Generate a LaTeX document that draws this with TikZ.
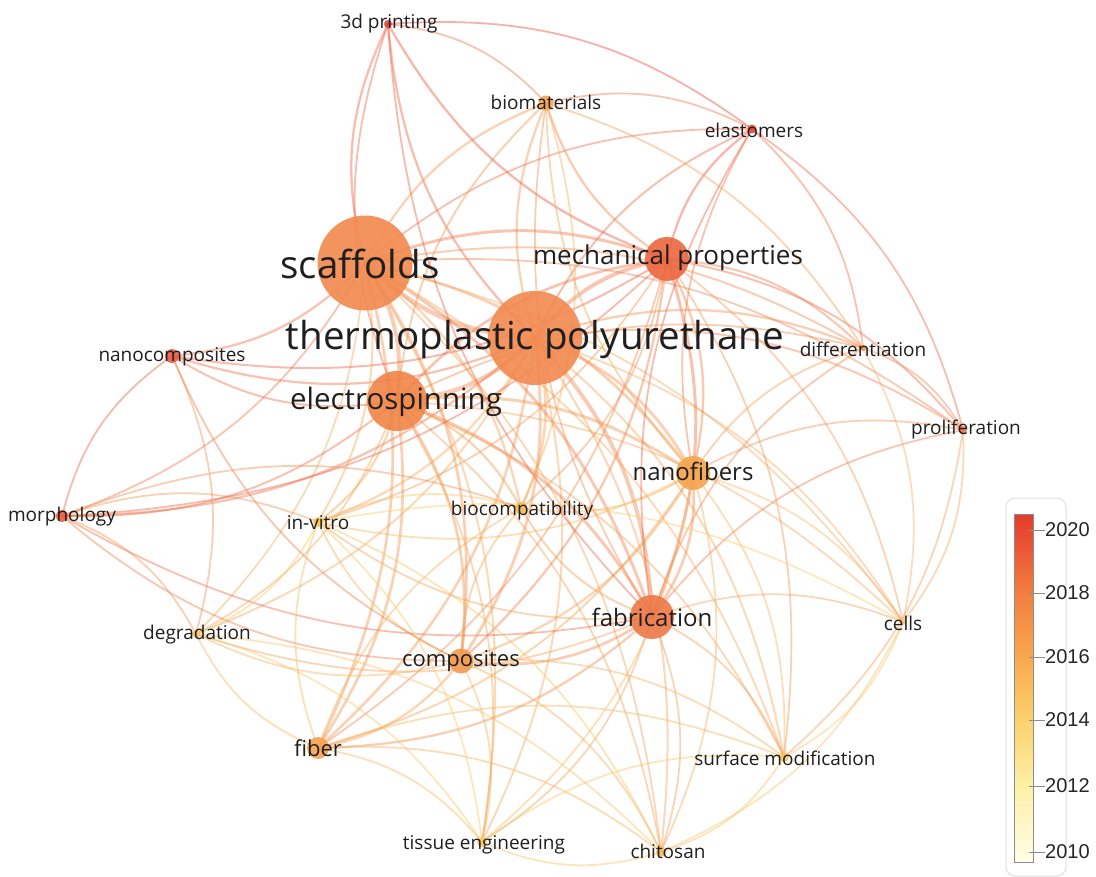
\documentclass[tikz,border=0pt]{standalone}
\usepackage{fontspec}
\setmainfont{Open Sans}
\newfontfamily\barfont{Liberation Sans}
\pgfdeclarelayer{edges}
\pgfsetlayers{edges,main}
\definecolor{c-tdp}{HTML}{E8423A}
\definecolor{c-ela}{HTML}{E84A3A}
\definecolor{c-nc}{HTML}{EA5A42}
\definecolor{c-mor}{HTML}{EA5E44}
\definecolor{c-mp}{HTML}{EC6640}
\definecolor{c-fab}{HTML}{EE7848}
\definecolor{c-pro}{HTML}{EE7A55}
\definecolor{c-sc}{HTML}{F2894E}
\definecolor{c-tpu}{HTML}{F28A50}
\definecolor{c-es}{HTML}{F08446}
\definecolor{c-dif}{HTML}{F0924E}
\definecolor{c-comp}{HTML}{F29A50}
\definecolor{c-fib}{HTML}{F4A452}
\definecolor{c-nf}{HTML}{F4A44E}
\definecolor{c-biom}{HTML}{F5A552}
\definecolor{c-bioc}{HTML}{F7BA5A}
\definecolor{c-chi}{HTML}{F7BC62}
\definecolor{c-sm}{HTML}{F8C462}
\definecolor{c-deg}{HTML}{F8C666}
\definecolor{c-te}{HTML}{F8C864}
\definecolor{c-inv}{HTML}{F8CA5C}
\definecolor{c-cel}{HTML}{F8CC74}
\definecolor{y2020}{HTML}{E33A2D}
\definecolor{y2018}{HTML}{F37E3F}
\definecolor{y2016}{HTML}{F9A84E}
\definecolor{y2014}{HTML}{FCD26E}
\definecolor{y2012}{HTML}{FEF0A6}
\definecolor{y2010}{HTML}{FFFDE6}
\tikzset{
  bub/.style={circle, inner sep=0pt, draw=none, fill opacity=0.9},
  lab/.style={inner sep=0pt, text=black!88, font=\fontsize{19}{19}\selectfont},
  labm/.style={lab, font=\fontsize{24}{24}\selectfont},
  labc/.style={lab, font=\fontsize{22}{22}\selectfont},
  labl/.style={lab, font=\fontsize{26}{26}\selectfont},
  labes/.style={lab, font=\fontsize{29.5}{29.5}\selectfont},
  labxl/.style={lab, font=\fontsize{38.5}{38.5}\selectfont},
  edge/.style={draw opacity=0.42, line cap=round},
  tick/.style={draw=black!45, line width=0.8pt},
  ticklab/.style={inner sep=0pt, anchor=west, font=\barfont\fontsize{20}{20}\selectfont, text=black!85}
}
\begin{document}
\begin{tikzpicture}[x=1pt,y=-1pt]
\useasboundingbox (0,0) rectangle (1096,877);
% bubbles
\node[bub, minimum size=8pt, fill=c-tdp] (tdp) at (388,24) {};
\node[bub, minimum size=15pt, fill=c-biom] (biom) at (546,103) {};
\node[bub, minimum size=9pt, fill=c-ela] (ela) at (752,129) {};
\node[bub, minimum size=95pt, fill=c-sc] (sc) at (365,263) {};
\node[bub, minimum size=44pt, fill=c-mp] (mp) at (667,259) {};
\node[bub, minimum size=94pt, fill=c-tpu] (tpu) at (535,338) {};
\node[bub, minimum size=14pt, fill=c-nc] (nc) at (172,356) {};
\node[bub, minimum size=6pt, fill=c-dif] (dif) at (863,348) {};
\node[bub, minimum size=60pt, fill=c-es] (es) at (397,401) {};
\node[bub, minimum size=8pt, fill=c-pro] (pro) at (963,430) {};
\node[bub, minimum size=34pt, fill=c-nf] (nf) at (693,473) {};
\node[bub, minimum size=12pt, fill=c-mor] (mor) at (62,516) {};
\node[bub, minimum size=10pt, fill=c-inv] (inv) at (318,522) {};
\node[bub, minimum size=12pt, fill=c-bioc] (bioc) at (521,508) {};
\node[bub, minimum size=8pt, fill=c-deg] (deg) at (196,634) {};
\node[bub, minimum size=44pt, fill=c-fab] (fab) at (652,617) {};
\node[bub, minimum size=6pt, fill=c-cel] (cel) at (903,622) {};
\node[bub, minimum size=25pt, fill=c-comp] (comp) at (461,661) {};
\node[bub, minimum size=22pt, fill=c-fib] (fib) at (318,748) {};
\node[bub, minimum size=10pt, fill=c-sm] (sm) at (784,757) {};
\node[bub, minimum size=10pt, fill=c-te] (te) at (482,842) {};
\node[bub, minimum size=10pt, fill=c-chi] (chi) at (661,852) {};
% labels
\node[lab] (tdp-l) at (389,24) {3d printing};
\node[lab] (biom-l) at (546,102) {biomaterials};
\node[lab] (ela-l) at (754,130) {elastomers};
\node[labxl] (sc-l) at (360,264) {scaffolds};
\node[labl] (mp-l) at (668,258) {mechanical properties};
\node[labxl] (tpu-l) at (535,339) {thermoplastic polyurethane};
\node[lab] (nc-l) at (172,357) {nanocomposites};
\node[lab] (dif-l) at (863,349) {differentiation};
\node[labes] (es-l) at (396,402) {electrospinning};
\node[lab] (pro-l) at (966,430) {proliferation};
\node[labm] (nf-l) at (693,471) {nanofibers};
\node[lab] (mor-l) at (62,517) {morphology};
\node[lab] (inv-l) at (318,523) {in-vitro};
\node[lab] (bioc-l) at (522,511) {biocompatibility};
\node[lab] (deg-l) at (197,635) {degradation};
\node[labm] (fab-l) at (652,617) {fabrication};
\node[lab] (cel-l) at (903,623) {cells};
\node[labc] (comp-l) at (461,661) {composites};
\node[labc] (fib-l) at (318,748) {fiber};
\node[lab] (sm-l) at (785,758) {surface modification};
\node[lab] (te-l) at (484,845) {tissue engineering};
\node[lab] (chi-l) at (668,851) {chitosan};
% edges
\begin{pgfonlayer}{edges}
\fill[white] (0,0) rectangle (1096,877);
\foreach \a/\b/\w in {
tpu/sc/4.5, tpu/es/4.5, tpu/mp/3.8, sc/es/3.8, tpu/nf/3, tpu/fab/3.8, sc/mp/3, tpu/comp/3, tpu/fib/2.7, tpu/biom/2.3, tpu/tdp/2.3, tpu/ela/2, tpu/nc/2.3, tpu/mor/2.3, tpu/inv/2.3, tpu/deg/2, tpu/bioc/2.7, tpu/dif/2.3, tpu/pro/2, tpu/cel/1.8, tpu/sm/2, tpu/chi/2, tpu/te/2,
sc/tdp/2.3, sc/biom/2.3, sc/ela/1.8, sc/nc/2.3, sc/mor/1.8, sc/inv/2, sc/deg/1.8, sc/comp/2.7, sc/fib/2.7, sc/fab/3, sc/nf/2.7, sc/bioc/2.3, sc/te/2, sc/chi/1.8, sc/dif/2, sc/pro/1.8, sc/cel/1.8, sc/sm/1.8,
es/mp/2.7, es/nf/3, es/fab/3, es/comp/2.7, es/fib/2.7, es/nc/2, es/mor/2, es/inv/2.3, es/deg/1.8, es/bioc/2.3, es/te/1.8, es/chi/1.8, es/sm/1.8, es/cel/1.8, es/biom/2, es/tdp/1.8, es/dif/1.8,
mp/nf/2.3, mp/fab/3, mp/comp/2.3, mp/fib/1.8, mp/biom/2.3, mp/tdp/2.3, mp/ela/2.3, mp/dif/2, mp/pro/2, mp/nc/2, mp/mor/1.8, mp/bioc/1.8, mp/sm/1.8, mp/cel/1.8, mp/inv/1.8,
nf/fab/2.7, nf/comp/2.3, nf/fib/2, nf/bioc/2, nf/inv/1.8, nf/te/1.8, nf/chi/1.8, nf/sm/1.8, nf/cel/1.8, nf/pro/1.8, nf/dif/1.8, nf/biom/1.8, nf/ela/1.8,
fab/comp/2.7, fab/fib/2.3, fab/bioc/2, fab/inv/1.8, fab/deg/1.8, fab/te/1.8, fab/chi/1.8, fab/sm/1.8, fab/cel/1.8, fab/pro/1.8, fab/dif/1.8, fab/mor/1.8, fab/tdp/1.8, fab/ela/1.8, fab/biom/1.8,
comp/fib/2.3, comp/bioc/2, comp/inv/1.8, comp/deg/1.8, comp/te/1.8, comp/chi/1.8, comp/sm/1.8, comp/mor/1.8, comp/nc/1.8,
fib/inv/1.8, fib/deg/1.8, fib/te/1.8, fib/chi/1.8, fib/sm/1.8, fib/bioc/1.8,
inv/deg/1.8, inv/te/1.8, inv/chi/1.8, inv/bioc/1.8, mor/inv/1.8, inv/cel/1.8,
deg/te/1.8, mor/deg/1.8, nc/deg/1.8, deg/chi/1.8,
mor/nc/1.8, mor/bioc/1.8,
dif/pro/1.8, ela/dif/1.8, dif/cel/1.8, biom/dif/1.8,
ela/pro/1.8, pro/cel/1.8, pro/sm/1.8,
cel/sm/1.8, cel/chi/1.8,
sm/chi/1.8, te/sm/1.8, chi/te/1.8,
tdp/biom/1.8, biom/ela/1.8, tdp/ela/1.8, biom/bioc/1.8}
{
  \draw[edge, draw=c-\a!50!c-\b, line width=\w pt] (\a.center) to[bend left=20] (\b.center);
}
\end{pgfonlayer}
% colour bar
\draw[black!12, line width=1pt, rounded corners=9pt] (1006,498) rectangle (1066,876);
\shade[top color=y2020, bottom color=y2018] (1014,514) rectangle (1033,593);
\shade[top color=y2018, bottom color=y2016] (1014,593) rectangle (1033,657);
\shade[top color=y2016, bottom color=y2014] (1014,657) rectangle (1033,720);
\shade[top color=y2014, bottom color=y2012] (1014,720) rectangle (1033,786);
\shade[top color=y2012, bottom color=y2010] (1014,786) rectangle (1033,862);
\node[draw=black!45, line width=1pt, inner sep=0pt, minimum width=19pt, minimum height=348pt] (bar) at (1023.5,688) {};
\foreach \yr/\yy in {2020/530, 2018/593, 2016/657, 2014/720, 2012/786, 2010/852}{
  \coordinate (t\yr) at (1029,\yy);
  \node[ticklab] (l\yr) at (1045,\yy) {\yr};
  \draw[tick] (t\yr) -- (l\yr.west);
}
\end{tikzpicture}
\end{document}
